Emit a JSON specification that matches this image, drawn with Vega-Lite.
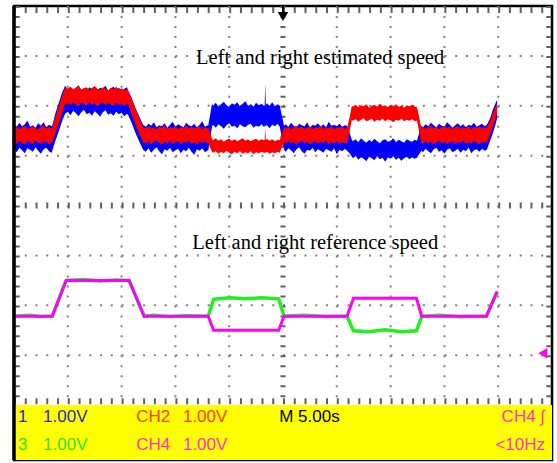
{
  "$schema": "https://vega.github.io/schema/vega-lite/v6.json",
  "width": 538,
  "height": 454,
  "autosize": {"type": "none"},
  "padding": {"left": 14, "top": 6, "right": 5, "bottom": 3},
  "background": "white",
  "config": {"view": {"stroke": "black", "strokeWidth": 2.5, "fill": "white"}, "axis": {"disable": true}},
  "datasets": {
    "vgrid": [{"x": 1}, {"x": 2}, {"x": 3}, {"x": 4}, {"x": 6}, {"x": 7}, {"x": 8}, {"x": 9}],
    "hgrid": [{"y": -3}, {"y": -2}, {"y": -1}, {"y": 1}, {"y": 2}, {"y": 3}],
    "ch1": [
      {"t":0.00,"lo":1.14,"hi":1.62},{"t":0.05,"lo":1.07,"hi":1.57},{"t":0.10,"lo":1.16,"hi":1.66},{"t":0.15,"lo":1.11,"hi":1.59},{"t":0.20,"lo":1.05,"hi":1.63},
      {"t":0.25,"lo":1.15,"hi":1.70},{"t":0.30,"lo":1.12,"hi":1.58},{"t":0.35,"lo":1.08,"hi":1.61},{"t":0.40,"lo":1.17,"hi":1.56},{"t":0.45,"lo":1.10,"hi":1.65},
      {"t":0.50,"lo":1.04,"hi":1.60},{"t":0.55,"lo":1.13,"hi":1.67},{"t":0.60,"lo":1.16,"hi":1.57},{"t":0.65,"lo":1.09,"hi":1.62},{"t":0.70,"lo":1.06,"hi":1.59},
      {"t":0.71,"lo":1.10,"hi":1.60},{"t":0.77,"lo":1.30,"hi":1.85},{"t":0.83,"lo":1.48,"hi":2.05},{"t":0.89,"lo":1.68,"hi":2.25},{"t":0.95,"lo":1.84,"hi":2.40},
      {"t":1.00,"lo":1.88,"hi":2.33},{"t":1.05,"lo":1.81,"hi":2.38},{"t":1.10,"lo":1.90,"hi":2.30},{"t":1.15,"lo":1.85,"hi":2.36},{"t":1.20,"lo":1.79,"hi":2.41},
      {"t":1.25,"lo":1.87,"hi":2.32},{"t":1.30,"lo":1.92,"hi":2.35},{"t":1.35,"lo":1.83,"hi":2.29},{"t":1.40,"lo":1.86,"hi":2.37},{"t":1.45,"lo":1.80,"hi":2.33},
      {"t":1.50,"lo":1.89,"hi":2.39},{"t":1.55,"lo":1.84,"hi":2.31},{"t":1.60,"lo":1.78,"hi":2.36},{"t":1.65,"lo":1.87,"hi":2.34},{"t":1.70,"lo":1.91,"hi":2.40},
      {"t":1.75,"lo":1.82,"hi":2.30},{"t":1.80,"lo":1.85,"hi":2.35},{"t":1.85,"lo":1.80,"hi":2.38},{"t":1.90,"lo":1.88,"hi":2.32},{"t":1.95,"lo":1.83,"hi":2.36},
      {"t":2.00,"lo":1.86,"hi":2.29},{"t":2.05,"lo":1.79,"hi":2.34},{"t":2.10,"lo":1.84,"hi":2.37},{"t":2.12,"lo":1.82,"hi":2.31},{"t":2.19,"lo":1.65,"hi":2.15},
      {"t":2.26,"lo":1.45,"hi":1.95},{"t":2.33,"lo":1.28,"hi":1.78},{"t":2.40,"lo":1.12,"hi":1.62},
      {"t":2.45,"lo":1.08,"hi":1.58},{"t":2.50,"lo":1.15,"hi":1.64},{"t":2.55,"lo":1.06,"hi":1.60},{"t":2.60,"lo":1.12,"hi":1.67},{"t":2.65,"lo":1.17,"hi":1.57},
      {"t":2.70,"lo":1.09,"hi":1.61},{"t":2.75,"lo":1.03,"hi":1.59},{"t":2.80,"lo":1.13,"hi":1.65},{"t":2.85,"lo":1.10,"hi":1.56},{"t":2.90,"lo":1.16,"hi":1.62},
      {"t":2.95,"lo":1.07,"hi":1.68},{"t":3.00,"lo":1.11,"hi":1.58},{"t":3.05,"lo":1.14,"hi":1.63},{"t":3.10,"lo":1.05,"hi":1.60},{"t":3.15,"lo":1.12,"hi":1.57},
      {"t":3.20,"lo":1.09,"hi":1.66},{"t":3.25,"lo":1.16,"hi":1.61},{"t":3.30,"lo":1.08,"hi":1.59},{"t":3.35,"lo":1.02,"hi":1.64},{"t":3.40,"lo":1.13,"hi":1.57},
      {"t":3.45,"lo":1.10,"hi":1.62},{"t":3.50,"lo":1.15,"hi":1.69},{"t":3.55,"lo":1.07,"hi":1.58},{"t":3.60,"lo":1.11,"hi":1.61},{"t":3.61,"lo":1.10,"hi":1.60},
      {"t":3.65,"lo":1.35,"hi":1.85},{"t":3.68,"lo":1.58,"hi":2.04},
      {"t":3.70,"lo":1.62,"hi":2.00},{"t":3.75,"lo":1.56,"hi":2.06},{"t":3.80,"lo":1.63,"hi":1.98},{"t":3.85,"lo":1.59,"hi":2.03},{"t":3.90,"lo":1.54,"hi":2.08},
      {"t":3.95,"lo":1.61,"hi":2.01},{"t":4.00,"lo":1.65,"hi":1.97},{"t":4.05,"lo":1.58,"hi":2.05},{"t":4.10,"lo":1.60,"hi":2.02},{"t":4.15,"lo":1.55,"hi":2.07},
      {"t":4.20,"lo":1.63,"hi":1.99},{"t":4.25,"lo":1.59,"hi":2.04},{"t":4.30,"lo":1.57,"hi":2.09},{"t":4.35,"lo":1.62,"hi":2.00},{"t":4.40,"lo":1.64,"hi":2.03},
      {"t":4.45,"lo":1.56,"hi":1.98},{"t":4.50,"lo":1.60,"hi":2.06},{"t":4.55,"lo":1.58,"hi":2.01},{"t":4.60,"lo":1.63,"hi":2.04},{"t":4.65,"lo":1.57,"hi":1.99},
      {"t":4.66,"lo":1.60,"hi":2.02},{"t":4.67,"lo":1.60,"hi":2.44},{"t":4.68,"lo":1.60,"hi":2.01},{"t":4.70,"lo":1.61,"hi":2.05},{"t":4.75,"lo":1.55,"hi":2.00},
      {"t":4.80,"lo":1.62,"hi":2.07},{"t":4.85,"lo":1.59,"hi":1.99},{"t":4.90,"lo":1.64,"hi":2.03},{"t":4.94,"lo":1.58,"hi":2.00},{"t":4.98,"lo":1.35,"hi":1.80},
      {"t":5.02,"lo":1.12,"hi":1.60},
      {"t":5.05,"lo":1.08,"hi":1.63},{"t":5.10,"lo":1.15,"hi":1.58},{"t":5.15,"lo":1.11,"hi":1.66},{"t":5.20,"lo":1.05,"hi":1.60},{"t":5.25,"lo":1.13,"hi":1.57},
      {"t":5.30,"lo":1.17,"hi":1.64},{"t":5.35,"lo":1.09,"hi":1.61},{"t":5.40,"lo":1.04,"hi":1.59},{"t":5.45,"lo":1.12,"hi":1.67},{"t":5.50,"lo":1.10,"hi":1.56},
      {"t":5.55,"lo":1.16,"hi":1.62},{"t":5.60,"lo":1.07,"hi":1.60},{"t":5.65,"lo":1.13,"hi":1.65},{"t":5.70,"lo":1.10,"hi":1.58},{"t":5.75,"lo":1.06,"hi":1.63},
      {"t":5.80,"lo":1.14,"hi":1.57},{"t":5.85,"lo":1.11,"hi":1.68},{"t":5.90,"lo":1.08,"hi":1.60},{"t":5.95,"lo":1.15,"hi":1.62},{"t":6.00,"lo":1.03,"hi":1.59},
      {"t":6.05,"lo":1.12,"hi":1.64},{"t":6.10,"lo":1.09,"hi":1.58},{"t":6.15,"lo":1.14,"hi":1.61},{"t":6.19,"lo":1.10,"hi":1.60},{"t":6.24,"lo":1.05,"hi":1.45},
      {"t":6.28,"lo":0.98,"hi":1.32},
      {"t":6.30,"lo":0.95,"hi":1.29},{"t":6.35,"lo":1.00,"hi":1.33},{"t":6.40,"lo":0.92,"hi":1.27},{"t":6.45,"lo":0.97,"hi":1.35},{"t":6.50,"lo":0.94,"hi":1.30},
      {"t":6.55,"lo":0.89,"hi":1.26},{"t":6.60,"lo":0.98,"hi":1.32},{"t":6.65,"lo":0.95,"hi":1.28},{"t":6.70,"lo":0.91,"hi":1.34},{"t":6.75,"lo":0.99,"hi":1.29},
      {"t":6.80,"lo":0.93,"hi":1.25},{"t":6.85,"lo":0.96,"hi":1.31},{"t":6.90,"lo":0.88,"hi":1.33},{"t":6.95,"lo":0.97,"hi":1.28},{"t":7.00,"lo":0.94,"hi":1.30},
      {"t":7.05,"lo":0.99,"hi":1.35},{"t":7.10,"lo":0.92,"hi":1.27},{"t":7.15,"lo":0.96,"hi":1.32},{"t":7.20,"lo":0.90,"hi":1.29},{"t":7.25,"lo":0.95,"hi":1.26},
      {"t":7.30,"lo":0.98,"hi":1.33},{"t":7.35,"lo":0.93,"hi":1.30},{"t":7.40,"lo":0.97,"hi":1.28},{"t":7.45,"lo":0.94,"hi":1.32},{"t":7.49,"lo":0.96,"hi":1.30},
      {"t":7.53,"lo":1.03,"hi":1.45},{"t":7.57,"lo":1.10,"hi":1.60},
      {"t":7.60,"lo":1.07,"hi":1.57},{"t":7.65,"lo":1.14,"hi":1.63},{"t":7.70,"lo":1.09,"hi":1.59},{"t":7.75,"lo":1.05,"hi":1.66},{"t":7.80,"lo":1.13,"hi":1.61},
      {"t":7.85,"lo":1.16,"hi":1.57},{"t":7.90,"lo":1.08,"hi":1.64},{"t":7.95,"lo":1.11,"hi":1.60},{"t":8.00,"lo":1.04,"hi":1.58},{"t":8.05,"lo":1.12,"hi":1.67},
      {"t":8.10,"lo":1.15,"hi":1.62},{"t":8.15,"lo":1.07,"hi":1.56},{"t":8.20,"lo":1.10,"hi":1.61},{"t":8.25,"lo":1.14,"hi":1.65},{"t":8.30,"lo":1.06,"hi":1.59},
      {"t":8.35,"lo":1.12,"hi":1.63},{"t":8.40,"lo":1.09,"hi":1.57},{"t":8.45,"lo":1.16,"hi":1.62},{"t":8.50,"lo":1.05,"hi":1.60},{"t":8.55,"lo":1.11,"hi":1.66},
      {"t":8.60,"lo":1.13,"hi":1.58},{"t":8.65,"lo":1.08,"hi":1.61},{"t":8.70,"lo":1.14,"hi":1.64},{"t":8.75,"lo":1.10,"hi":1.59},{"t":8.79,"lo":1.12,"hi":1.62},
      {"t":8.85,"lo":1.30,"hi":1.75},{"t":8.90,"lo":1.45,"hi":1.92},{"t":8.95,"lo":1.62,"hi":2.05},{"t":8.98,"lo":1.75,"hi":2.12}
    ],
    "ch2": [
      {"t":0.00,"lo":1.28,"hi":1.55},{"t":0.05,"lo":1.24,"hi":1.58},{"t":0.10,"lo":1.30,"hi":1.53},{"t":0.15,"lo":1.26,"hi":1.57},{"t":0.20,"lo":1.22,"hi":1.60},
      {"t":0.25,"lo":1.29,"hi":1.54},{"t":0.30,"lo":1.27,"hi":1.56},{"t":0.35,"lo":1.23,"hi":1.59},{"t":0.40,"lo":1.31,"hi":1.55},{"t":0.45,"lo":1.26,"hi":1.52},
      {"t":0.50,"lo":1.24,"hi":1.58},{"t":0.55,"lo":1.29,"hi":1.61},{"t":0.60,"lo":1.27,"hi":1.54},{"t":0.65,"lo":1.22,"hi":1.57},{"t":0.70,"lo":1.28,"hi":1.55},
      {"t":0.71,"lo":1.27,"hi":1.56},{"t":0.77,"lo":1.45,"hi":1.78},{"t":0.83,"lo":1.65,"hi":1.98},{"t":0.89,"lo":1.85,"hi":2.18},{"t":0.95,"lo":2.03,"hi":2.36},
      {"t":1.00,"lo":2.05,"hi":2.34},{"t":1.05,"lo":2.01,"hi":2.38},{"t":1.10,"lo":2.07,"hi":2.33},{"t":1.15,"lo":2.03,"hi":2.36},{"t":1.20,"lo":1.99,"hi":2.40},
      {"t":1.25,"lo":2.06,"hi":2.32},{"t":1.30,"lo":2.04,"hi":2.35},{"t":1.35,"lo":2.00,"hi":2.37},{"t":1.40,"lo":2.07,"hi":2.31},{"t":1.45,"lo":2.02,"hi":2.36},
      {"t":1.50,"lo":2.05,"hi":2.39},{"t":1.55,"lo":1.98,"hi":2.34},{"t":1.60,"lo":2.04,"hi":2.32},{"t":1.65,"lo":2.07,"hi":2.37},{"t":1.70,"lo":2.01,"hi":2.35},
      {"t":1.75,"lo":2.05,"hi":2.30},{"t":1.80,"lo":2.03,"hi":2.36},{"t":1.85,"lo":1.99,"hi":2.33},{"t":1.90,"lo":2.06,"hi":2.38},{"t":1.95,"lo":2.02,"hi":2.32},
      {"t":2.00,"lo":2.04,"hi":2.35},{"t":2.05,"lo":2.00,"hi":2.31},{"t":2.10,"lo":2.05,"hi":2.34},{"t":2.12,"lo":2.02,"hi":2.30},{"t":2.19,"lo":1.82,"hi":2.12},
      {"t":2.26,"lo":1.62,"hi":1.94},{"t":2.33,"lo":1.44,"hi":1.75},{"t":2.40,"lo":1.27,"hi":1.57},
      {"t":2.45,"lo":1.25,"hi":1.55},{"t":2.50,"lo":1.29,"hi":1.59},{"t":2.55,"lo":1.23,"hi":1.54},{"t":2.60,"lo":1.28,"hi":1.57},{"t":2.65,"lo":1.31,"hi":1.53},
      {"t":2.70,"lo":1.26,"hi":1.58},{"t":2.75,"lo":1.22,"hi":1.56},{"t":2.80,"lo":1.28,"hi":1.60},{"t":2.85,"lo":1.25,"hi":1.54},{"t":2.90,"lo":1.30,"hi":1.57},
      {"t":2.95,"lo":1.24,"hi":1.55},{"t":3.00,"lo":1.27,"hi":1.59},{"t":3.05,"lo":1.29,"hi":1.53},{"t":3.10,"lo":1.23,"hi":1.57},{"t":3.15,"lo":1.28,"hi":1.56},
      {"t":3.20,"lo":1.26,"hi":1.60},{"t":3.25,"lo":1.30,"hi":1.54},{"t":3.30,"lo":1.24,"hi":1.58},{"t":3.35,"lo":1.27,"hi":1.55},{"t":3.40,"lo":1.22,"hi":1.57},
      {"t":3.45,"lo":1.29,"hi":1.59},{"t":3.50,"lo":1.26,"hi":1.53},{"t":3.55,"lo":1.28,"hi":1.57},{"t":3.60,"lo":1.25,"hi":1.55},{"t":3.61,"lo":1.26,"hi":1.56},
      {"t":3.65,"lo":1.15,"hi":1.45},{"t":3.68,"lo":1.08,"hi":1.34},
      {"t":3.70,"lo":1.06,"hi":1.31},{"t":3.75,"lo":1.09,"hi":1.35},{"t":3.80,"lo":1.04,"hi":1.30},{"t":3.85,"lo":1.08,"hi":1.33},{"t":3.90,"lo":1.05,"hi":1.28},
      {"t":3.95,"lo":1.10,"hi":1.32},{"t":4.00,"lo":1.06,"hi":1.34},{"t":4.05,"lo":1.03,"hi":1.30},{"t":4.10,"lo":1.08,"hi":1.33},{"t":4.15,"lo":1.05,"hi":1.29},
      {"t":4.20,"lo":1.09,"hi":1.32},{"t":4.25,"lo":1.04,"hi":1.35},{"t":4.30,"lo":1.07,"hi":1.30},{"t":4.35,"lo":1.05,"hi":1.33},{"t":4.40,"lo":1.09,"hi":1.29},
      {"t":4.45,"lo":1.03,"hi":1.32},{"t":4.50,"lo":1.07,"hi":1.34},{"t":4.55,"lo":1.05,"hi":1.30},{"t":4.60,"lo":1.08,"hi":1.33},{"t":4.65,"lo":1.06,"hi":1.31},
      {"t":4.66,"lo":1.06,"hi":1.32},{"t":4.67,"lo":1.06,"hi":1.56},{"t":4.68,"lo":1.06,"hi":1.31},{"t":4.70,"lo":1.08,"hi":1.34},{"t":4.75,"lo":1.04,"hi":1.30},
      {"t":4.80,"lo":1.07,"hi":1.33},{"t":4.85,"lo":1.05,"hi":1.29},{"t":4.90,"lo":1.08,"hi":1.32},{"t":4.94,"lo":1.06,"hi":1.31},{"t":4.98,"lo":1.18,"hi":1.45},
      {"t":5.02,"lo":1.27,"hi":1.57},
      {"t":5.05,"lo":1.24,"hi":1.55},{"t":5.10,"lo":1.29,"hi":1.58},{"t":5.15,"lo":1.25,"hi":1.53},{"t":5.20,"lo":1.28,"hi":1.57},{"t":5.25,"lo":1.22,"hi":1.60},
      {"t":5.30,"lo":1.27,"hi":1.55},{"t":5.35,"lo":1.30,"hi":1.58},{"t":5.40,"lo":1.25,"hi":1.54},{"t":5.45,"lo":1.28,"hi":1.56},{"t":5.50,"lo":1.23,"hi":1.59},
      {"t":5.55,"lo":1.27,"hi":1.53},{"t":5.60,"lo":1.29,"hi":1.57},{"t":5.65,"lo":1.24,"hi":1.56},{"t":5.70,"lo":1.28,"hi":1.60},{"t":5.75,"lo":1.26,"hi":1.54},
      {"t":5.80,"lo":1.30,"hi":1.57},{"t":5.85,"lo":1.23,"hi":1.55},{"t":5.90,"lo":1.27,"hi":1.59},{"t":5.95,"lo":1.25,"hi":1.53},{"t":6.00,"lo":1.29,"hi":1.57},
      {"t":6.05,"lo":1.24,"hi":1.56},{"t":6.10,"lo":1.27,"hi":1.58},{"t":6.15,"lo":1.25,"hi":1.54},{"t":6.19,"lo":1.26,"hi":1.55},{"t":6.24,"lo":1.50,"hi":1.78},
      {"t":6.28,"lo":1.72,"hi":2.00},
      {"t":6.30,"lo":1.70,"hi":1.98},{"t":6.35,"lo":1.73,"hi":2.02},{"t":6.40,"lo":1.68,"hi":1.97},{"t":6.45,"lo":1.72,"hi":2.01},{"t":6.50,"lo":1.75,"hi":1.99},
      {"t":6.55,"lo":1.69,"hi":2.03},{"t":6.60,"lo":1.71,"hi":1.96},{"t":6.65,"lo":1.74,"hi":2.00},{"t":6.70,"lo":1.68,"hi":2.02},{"t":6.75,"lo":1.72,"hi":1.98},
      {"t":6.80,"lo":1.70,"hi":2.04},{"t":6.85,"lo":1.74,"hi":1.99},{"t":6.90,"lo":1.69,"hi":2.01},{"t":6.95,"lo":1.73,"hi":1.97},{"t":7.00,"lo":1.71,"hi":2.02},
      {"t":7.05,"lo":1.67,"hi":1.99},{"t":7.10,"lo":1.72,"hi":2.03},{"t":7.15,"lo":1.70,"hi":1.98},{"t":7.20,"lo":1.74,"hi":2.00},{"t":7.25,"lo":1.69,"hi":1.96},
      {"t":7.30,"lo":1.72,"hi":2.01},{"t":7.35,"lo":1.70,"hi":1.99},{"t":7.40,"lo":1.73,"hi":2.02},{"t":7.45,"lo":1.69,"hi":1.98},{"t":7.49,"lo":1.70,"hi":1.97},
      {"t":7.53,"lo":1.48,"hi":1.78},{"t":7.57,"lo":1.27,"hi":1.56},
      {"t":7.60,"lo":1.24,"hi":1.58},{"t":7.65,"lo":1.29,"hi":1.54},{"t":7.70,"lo":1.25,"hi":1.57},{"t":7.75,"lo":1.28,"hi":1.60},{"t":7.80,"lo":1.22,"hi":1.55},
      {"t":7.85,"lo":1.27,"hi":1.58},{"t":7.90,"lo":1.30,"hi":1.53},{"t":7.95,"lo":1.25,"hi":1.57},{"t":8.00,"lo":1.28,"hi":1.59},{"t":8.05,"lo":1.24,"hi":1.55},
      {"t":8.10,"lo":1.27,"hi":1.58},{"t":8.15,"lo":1.29,"hi":1.54},{"t":8.20,"lo":1.23,"hi":1.56},{"t":8.25,"lo":1.28,"hi":1.60},{"t":8.30,"lo":1.26,"hi":1.54},
      {"t":8.35,"lo":1.30,"hi":1.57},{"t":8.40,"lo":1.24,"hi":1.55},{"t":8.45,"lo":1.27,"hi":1.59},{"t":8.50,"lo":1.25,"hi":1.53},{"t":8.55,"lo":1.29,"hi":1.57},
      {"t":8.60,"lo":1.26,"hi":1.56},{"t":8.65,"lo":1.23,"hi":1.58},{"t":8.70,"lo":1.28,"hi":1.55},{"t":8.75,"lo":1.26,"hi":1.57},{"t":8.79,"lo":1.27,"hi":1.56},
      {"t":8.85,"lo":1.42,"hi":1.70},{"t":8.90,"lo":1.58,"hi":1.85},{"t":8.95,"lo":1.75,"hi":1.98},{"t":8.98,"lo":1.86,"hi":2.06}
    ],
    "ch3": [
      {"t": 0.00, "v": -2.22}, {"t": 0.30, "v": -2.20}, {"t": 0.50, "v": -2.23}, {"t": 0.71, "v": -2.22}, {"t": 0.97, "v": -1.50},
      {"t": 1.30, "v": -1.48}, {"t": 1.60, "v": -1.51}, {"t": 1.90, "v": -1.49}, {"t": 2.14, "v": -1.50}, {"t": 2.42, "v": -2.22},
      {"t": 2.60, "v": -2.20}, {"t": 2.90, "v": -2.23}, {"t": 3.20, "v": -2.21}, {"t": 3.61, "v": -2.22}, {"t": 3.71, "v": -1.88},
      {"t": 4.00, "v": -1.85}, {"t": 4.30, "v": -1.87}, {"t": 4.60, "v": -1.85}, {"t": 4.92, "v": -1.87}, {"t": 5.02, "v": -2.22},
      {"t": 5.40, "v": -2.20}, {"t": 5.80, "v": -2.23}, {"t": 6.19, "v": -2.22}, {"t": 6.31, "v": -2.51}, {"t": 6.60, "v": -2.53},
      {"t": 6.90, "v": -2.49}, {"t": 7.20, "v": -2.53}, {"t": 7.48, "v": -2.51}, {"t": 7.58, "v": -2.22}, {"t": 7.90, "v": -2.20},
      {"t": 8.30, "v": -2.23}, {"t": 8.78, "v": -2.22}, {"t": 8.98, "v": -1.74}
    ],
    "ch4": [
      {"t": 0.00, "v": -2.22}, {"t": 0.71, "v": -2.22}, {"t": 0.97, "v": -1.50}, {"t": 2.14, "v": -1.50}, {"t": 2.42, "v": -2.22},
      {"t": 3.61, "v": -2.22}, {"t": 3.71, "v": -2.50}, {"t": 4.92, "v": -2.50}, {"t": 5.02, "v": -2.22}, {"t": 6.19, "v": -2.22},
      {"t": 6.31, "v": -1.86}, {"t": 7.48, "v": -1.86}, {"t": 7.58, "v": -2.22}, {"t": 8.78, "v": -2.22}, {"t": 8.98, "v": -1.72}
    ]
  },
  "layer": [
    {
      "data": {"values": [{}]},
      "mark": {"type": "rect", "color": "#ffff00"},
      "encoding": {
        "x": {"datum": 0, "type": "quantitative", "scale": {"domain": [0, 10], "nice": false, "zero": false}},
        "x2": {"datum": 10},
        "y": {"datum": -4, "type": "quantitative", "scale": {"domain": [-5.1, 4], "nice": false, "zero": false}},
        "y2": {"datum": -5.1}
      }
    },
    {
      "data": {"name": "vgrid"},
      "mark": {"type": "rule", "color": "#808080", "strokeWidth": 2, "strokeDash": [2, 7.98]},
      "encoding": {
        "x": {"field": "x", "type": "quantitative", "scale": {"domain": [0, 10], "nice": false, "zero": false}},
        "y": {"datum": 4, "type": "quantitative", "scale": {"domain": [-5.1, 4], "nice": false, "zero": false}},
        "y2": {"datum": -4}
      }
    },
    {
      "data": {"name": "hgrid"},
      "mark": {"type": "rule", "color": "#808080", "strokeWidth": 2, "strokeDash": [2, 8.76]},
      "encoding": {
        "y": {"field": "y", "type": "quantitative", "scale": {"domain": [-5.1, 4], "nice": false, "zero": false}},
        "x": {"datum": 0, "type": "quantitative", "scale": {"domain": [0, 10], "nice": false, "zero": false}},
        "x2": {"datum": 10}
      }
    },
    {
      "data": {"values": [{"y": 0}, {"y": 3.92}, {"y": -3.92}]},
      "mark": {"type": "rule", "color": "#606060", "strokeWidth": 6, "strokeDash": [2, 8.76]},
      "encoding": {
        "y": {"field": "y", "type": "quantitative", "scale": {"domain": [-5.1, 4], "nice": false, "zero": false}},
        "x": {"datum": 0, "type": "quantitative", "scale": {"domain": [0, 10], "nice": false, "zero": false}},
        "x2": {"datum": 10}
      }
    },
    {
      "data": {"values": [{"x": 0.06}, {"x": 5}, {"x": 9.94}]},
      "mark": {"type": "rule", "color": "#606060", "strokeWidth": 5, "strokeDash": [2, 7.98]},
      "encoding": {
        "x": {"field": "x", "type": "quantitative", "scale": {"domain": [0, 10], "nice": false, "zero": false}},
        "y": {"datum": 4, "type": "quantitative", "scale": {"domain": [-5.1, 4], "nice": false, "zero": false}},
        "y2": {"datum": -4}
      }
    },
    {
      "data": {"name": "ch1"},
      "mark": {"type": "area", "color": "#0000ff", "opacity": 1},
      "encoding": {
        "x": {"field": "t", "type": "quantitative", "scale": {"domain": [0, 10], "nice": false, "zero": false}},
        "y": {"field": "lo", "type": "quantitative", "scale": {"domain": [-5.1, 4], "nice": false, "zero": false}},
        "y2": {"field": "hi"}
      }
    },
    {
      "data": {"name": "ch2"},
      "mark": {"type": "area", "color": "#ff0000", "opacity": 1},
      "encoding": {
        "x": {"field": "t", "type": "quantitative", "scale": {"domain": [0, 10], "nice": false, "zero": false}},
        "y": {"field": "lo", "type": "quantitative", "scale": {"domain": [-5.1, 4], "nice": false, "zero": false}},
        "y2": {"field": "hi"}
      }
    },
    {
      "data": {"name": "ch3"},
      "mark": {"type": "line", "color": "#22ee22", "strokeWidth": 3.5},
      "encoding": {
        "x": {"field": "t", "type": "quantitative", "scale": {"domain": [0, 10], "nice": false, "zero": false}},
        "y": {"field": "v", "type": "quantitative", "scale": {"domain": [-5.1, 4], "nice": false, "zero": false}}
      }
    },
    {
      "data": {"name": "ch4"},
      "mark": {"type": "line", "color": "#ff00ff", "strokeWidth": 3},
      "encoding": {
        "x": {"field": "t", "type": "quantitative", "scale": {"domain": [0, 10], "nice": false, "zero": false}},
        "y": {"field": "v", "type": "quantitative", "scale": {"domain": [-5.1, 4], "nice": false, "zero": false}}
      }
    },
    {
      "data": {"values": [{"label": "Left and right estimated speed"}]},
      "mark": {"type": "text", "font": "Liberation Serif", "fontSize": 20.5, "color": "black", "align": "center", "baseline": "alphabetic"},
      "encoding": {
        "text": {"field": "label"},
        "x": {"datum": 5.69, "type": "quantitative", "scale": {"domain": [0, 10], "nice": false, "zero": false}},
        "y": {"datum": 2.84, "type": "quantitative", "scale": {"domain": [-5.1, 4], "nice": false, "zero": false}}
      }
    },
    {
      "data": {"values": [{"label": "Left and right reference speed"}]},
      "mark": {"type": "text", "font": "Liberation Serif", "fontSize": 20.5, "color": "black", "align": "center", "baseline": "alphabetic"},
      "encoding": {
        "text": {"field": "label"},
        "x": {"datum": 5.60, "type": "quantitative", "scale": {"domain": [0, 10], "nice": false, "zero": false}},
        "y": {"datum": -0.88, "type": "quantitative", "scale": {"domain": [-5.1, 4], "nice": false, "zero": false}}
      }
    },
    {
      "data": {"values": [{}]},
      "mark": {"type": "rule", "color": "black", "strokeWidth": 2},
      "encoding": {
        "x": {"datum": 5, "type": "quantitative", "scale": {"domain": [0, 10], "nice": false, "zero": false}},
        "y": {"datum": 4, "type": "quantitative", "scale": {"domain": [-5.1, 4], "nice": false, "zero": false}},
        "y2": {"datum": 3.84}
      }
    },
    {
      "data": {"values": [{}]},
      "mark": {"type": "point", "shape": "triangle-down", "filled": true, "color": "black", "size": 110, "opacity": 1},
      "encoding": {
        "x": {"datum": 5, "type": "quantitative", "scale": {"domain": [0, 10], "nice": false, "zero": false}},
        "y": {"datum": 3.79, "type": "quantitative", "scale": {"domain": [-5.1, 4], "nice": false, "zero": false}}
      }
    },
    {
      "data": {"values": [{}]},
      "mark": {"type": "point", "shape": "triangle-left", "filled": true, "color": "#ff00ff", "size": 110, "opacity": 1},
      "encoding": {
        "x": {"datum": 9.83, "type": "quantitative", "scale": {"domain": [0, 10], "nice": false, "zero": false}},
        "y": {"datum": -2.96, "type": "quantitative", "scale": {"domain": [-5.1, 4], "nice": false, "zero": false}}
      }
    },
    {
      "data": {"values": [
        {"label": "1", "c": "#2a2ad0", "slot": 0.074},
        {"label": "1.00V", "c": "#2a2ad0", "slot": 0.54},
        {"label": "CH2", "c": "#ff3a00", "slot": 2.27},
        {"label": "1.00V", "c": "#ff3a00", "slot": 3.14},
        {"label": "M 5.00s", "c": "#000000", "slot": 4.93}
      ]},
      "mark": {"type": "text", "font": "Liberation Sans", "fontSize": 17, "align": "left", "baseline": "alphabetic"},
      "encoding": {
        "text": {"field": "label"},
        "color": {"field": "c", "type": "nominal", "scale": null},
        "x": {"field": "slot", "type": "quantitative", "scale": {"domain": [0, 10], "nice": false, "zero": false}},
        "y": {"datum": -4.34, "type": "quantitative", "scale": {"domain": [-5.1, 4], "nice": false, "zero": false}}
      }
    },
    {
      "data": {"values": [
        {"label": "3", "c": "#33dd33", "slot": 0.074},
        {"label": "1.00V", "c": "#33dd33", "slot": 0.54},
        {"label": "CH4", "c": "#ff33cc", "slot": 2.27},
        {"label": "1.00V", "c": "#ff33cc", "slot": 3.14}
      ]},
      "mark": {"type": "text", "font": "Liberation Sans", "fontSize": 17, "align": "left", "baseline": "alphabetic"},
      "encoding": {
        "text": {"field": "label"},
        "color": {"field": "c", "type": "nominal", "scale": null},
        "x": {"field": "slot", "type": "quantitative", "scale": {"domain": [0, 10], "nice": false, "zero": false}},
        "y": {"datum": -4.90, "type": "quantitative", "scale": {"domain": [-5.1, 4], "nice": false, "zero": false}}
      }
    },
    {
      "data": {"values": [{"label": "CH4 ∫"}]},
      "mark": {"type": "text", "font": "Liberation Sans", "fontSize": 17, "align": "right", "baseline": "alphabetic", "color": "#ff33cc"},
      "encoding": {
        "text": {"field": "label"},
        "x": {"datum": 9.87, "type": "quantitative", "scale": {"domain": [0, 10], "nice": false, "zero": false}},
        "y": {"datum": -4.34, "type": "quantitative", "scale": {"domain": [-5.1, 4], "nice": false, "zero": false}}
      }
    },
    {
      "data": {"values": [{"label": "<10Hz"}]},
      "mark": {"type": "text", "font": "Liberation Sans", "fontSize": 17, "align": "right", "baseline": "alphabetic", "color": "#ff33cc"},
      "encoding": {
        "text": {"field": "label"},
        "x": {"datum": 9.87, "type": "quantitative", "scale": {"domain": [0, 10], "nice": false, "zero": false}},
        "y": {"datum": -4.90, "type": "quantitative", "scale": {"domain": [-5.1, 4], "nice": false, "zero": false}}
      }
    },
    {
      "data": {"values": [{}]},
      "mark": {"type": "rule", "color": "black", "strokeWidth": 3.5},
      "encoding": {
        "x": {"datum": 0, "type": "quantitative", "scale": {"domain": [0, 10], "nice": false, "zero": false}},
        "y": {"datum": 4, "type": "quantitative", "scale": {"domain": [-5.1, 4], "nice": false, "zero": false}},
        "y2": {"datum": -5.1}
      }
    }
  ]
}
